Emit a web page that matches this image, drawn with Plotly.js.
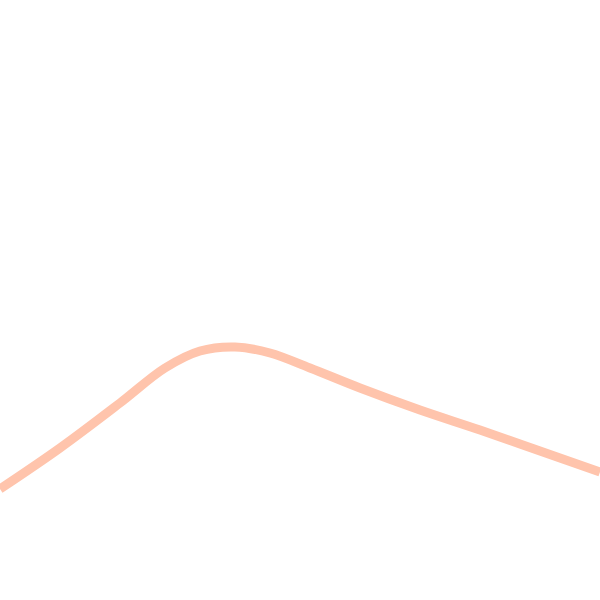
<!DOCTYPE html>
<html>
<head>
<meta charset="utf-8">
<script src="https://cdn.plot.ly/plotly-3.0.1.min.js"></script>
<style>
  html, body { margin: 0; padding: 0; background: #fff; }
  #plot { width: 600px; height: 600px; }
</style>
</head>
<body>
<div id="plot"></div>
<script>
const xs = [0, 60, 120, 165, 200, 235, 270, 310, 360, 420, 480, 540, 600];
const ys = [111, 152, 197, 232, 249, 253, 247, 232, 212, 190, 170, 149, 128];

const traces = [{
  type: "scatter",
  mode: "lines",
  x: xs,
  y: ys,
  line: { color: "#ffc4ac", width: 9, shape: "spline", smoothing: 1 },
  hoverinfo: "skip",
  showlegend: false
}];

const layout = {
  width: 600,
  height: 600,
  margin: { l: 0, r: 0, t: 0, b: 0 },
  xaxis: { visible: false, range: [0, 600], fixedrange: true },
  yaxis: { visible: false, range: [0, 600], fixedrange: true },
  paper_bgcolor: "#fff",
  plot_bgcolor: "#fff",
  showlegend: false
};

Plotly.newPlot("plot", traces, layout, { displayModeBar: false, staticPlot: true });
</script>
</body>
</html>
